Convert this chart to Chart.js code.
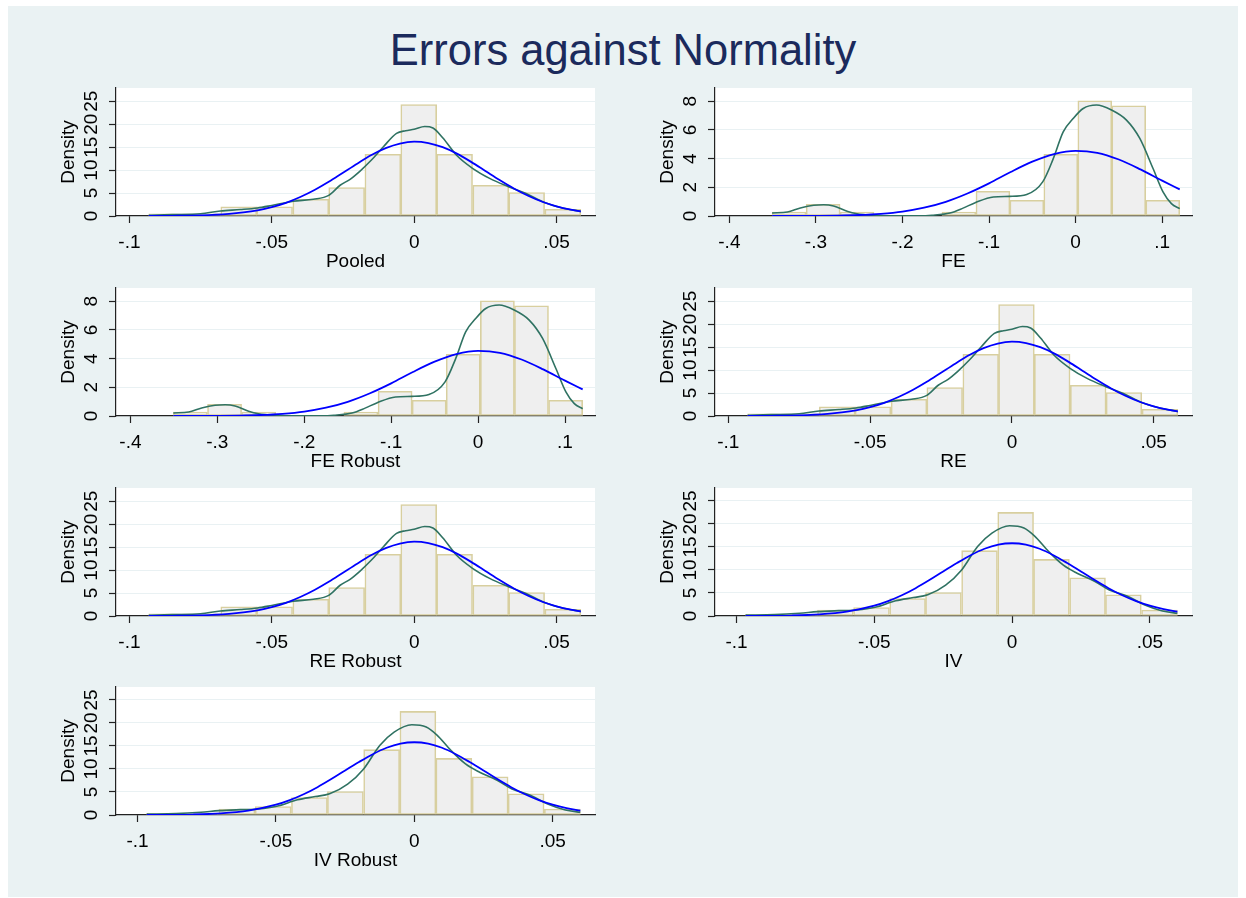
<!DOCTYPE html>
<html>
<head>
<meta charset="utf-8">
<script src="https://cdn.jsdelivr.net/npm/chart.js@4.4.1/dist/chart.umd.min.js"></script>
<style>
  body { margin: 0; background: #fff; width: 1246px; height: 898px; overflow: hidden; }
  #bg { position: absolute; left: 8px; top: 6px; width: 1230px; height: 891px; background: #eaf2f3; }
  #title { position: absolute; left: 0; top: 29px; width: 1246px; text-align: center;
           font: 43.5px/43.5px "Liberation Sans", Arial, sans-serif; color: #1b2a5c; }
  canvas { position: absolute; }
</style>
</head>
<body>
<div id="bg"></div>
<div id="title">Errors against Normality</div>

<script>
// --- data ---
// Pooled / RE / RE Robust residuals
const pooledBins = [-0.0869, -0.0742, -0.0616, -0.0490, -0.0363, -0.0237, -0.0110, 0.0016, 0.0142, 0.0269, 0.0395, 0.0522];
const pooledHist = [0.45, 0.45, 2.0, 2.0, 3.65, 6.2, 13.45, 24.3, 13.45, 6.7, 5.1, 1.46];
const pooledKdeX = [-0.0932, -0.085, -0.075, -0.068, -0.061, -0.055, -0.05, -0.0425, -0.0354, -0.03, -0.026, -0.0225, -0.019, -0.015, -0.0108, -0.0062, -0.003, 0, 0.0037, 0.0066, 0.0101, 0.0148, 0.0205, 0.0265, 0.0331, 0.0393, 0.046, 0.0521, 0.0585];
const pooledKdeY = [0.15, 0.3, 0.5, 1.1, 1.4, 1.75, 2.3, 3.2, 3.65, 4.5, 6.7, 8.0, 9.8, 12.2, 15.1, 18.0, 18.6, 18.9, 19.5, 19.2, 17.0, 13.3, 10.4, 8.2, 6.4, 4.9, 2.9, 1.75, 1.0];
const pooledNormX = [-0.0932, -0.085, -0.075, -0.065, -0.06, -0.055, -0.05, -0.045, -0.04, -0.035, -0.03, -0.025, -0.02, -0.015, -0.01, -0.005, 0, 0.005, 0.01, 0.015, 0.02, 0.025, 0.03, 0.035, 0.04, 0.045, 0.05, 0.055, 0.0585];
const pooledNormY = [0.01, 0.04, 0.14, 0.46, 0.77, 1.24, 1.94, 2.88, 4.14, 5.67, 7.46, 9.43, 11.4, 13.3, 14.8, 15.8, 16.2, 15.9, 15.0, 13.6, 11.8, 9.83, 7.85, 6.01, 4.42, 3.11, 2.11, 1.37, 0.98];

// FE / FE Robust residuals
const feBins = [-0.3310, -0.2917, -0.2525, -0.2133, -0.1740, -0.1348, -0.0955, -0.0563, -0.0171, 0.0222, 0.0614, 0.1007];
const feHist = [0.28, 0.82, 0.28, 0, 0, 0.28, 1.72, 1.1, 4.31, 8.04, 7.69, 1.1];
const feKdeX = [-0.3506, -0.333, -0.318, -0.3026, -0.291, -0.2796, -0.264, -0.2526, -0.2334, -0.21, -0.18, -0.166, -0.145, -0.13, -0.116, -0.095, -0.0758, -0.0565, -0.038, -0.0258, -0.0143, -0.0028, 0.0088, 0.0242, 0.0415, 0.0588, 0.0742, 0.0895, 0.101, 0.1107, 0.1203];
const feKdeY = [0.21, 0.28, 0.56, 0.75, 0.79, 0.70, 0.33, 0.16, 0.05, 0.01, 0.01, 0.05, 0.21, 0.55, 0.93, 1.33, 1.37, 1.5, 2.38, 4.0, 5.87, 6.8, 7.5, 7.74, 7.39, 6.69, 5.41, 3.31, 1.68, 0.86, 0.51];
const feNormX = [-0.3506, -0.325, -0.3, -0.275, -0.25, -0.225, -0.2, -0.175, -0.15, -0.125, -0.1, -0.075, -0.05, -0.025, 0, 0.025, 0.05, 0.075, 0.1, 0.1203];
const feNormY = [0.001, 0.004, 0.012, 0.03, 0.071, 0.155, 0.31, 0.58, 0.99, 1.57, 2.28, 3.07, 3.79, 4.32, 4.55, 4.41, 3.94, 3.25, 2.47, 1.86];

// IV / IV Robust residuals
const ivBins = [-0.0902, -0.0771, -0.0641, -0.0510, -0.0379, -0.0249, -0.0118, 0.0013, 0.0143, 0.0274, 0.0404, 0.0535];
const ivHist = [0.36, 0.36, 1.3, 1.85, 3.8, 5.1, 14.2, 22.5, 12.3, 8.3, 4.6, 1.3];
const ivKdeX = [-0.0967, -0.0861, -0.0771, -0.0706, -0.0629, -0.0564, -0.0497, -0.0422, -0.0358, -0.0306, -0.0241, -0.0183, -0.0125, -0.0073, -0.0009, 0.0043, 0.0081, 0.0133, 0.0185, 0.0236, 0.0301, 0.0353, 0.0417, 0.0482, 0.0546, 0.06];
const ivKdeY = [0.2, 0.3, 0.6, 0.94, 1.16, 1.3, 1.88, 3.3, 4.0, 4.6, 6.7, 10.0, 15.1, 18.0, 19.6, 19.1, 17.4, 14.0, 11.1, 9.3, 7.5, 5.65, 4.35, 2.4, 1.1, 0.58];
const ivNormX = [-0.0967, -0.09, -0.08, -0.07, -0.06, -0.05, -0.045, -0.04, -0.035, -0.03, -0.025, -0.02, -0.015, -0.01, -0.005, 0, 0.005, 0.01, 0.015, 0.02, 0.025, 0.03, 0.035, 0.04, 0.045, 0.05, 0.055, 0.06];
const ivNormY = [0.01, 0.03, 0.1, 0.34, 0.94, 2.23, 3.23, 4.5, 6.04, 7.8, 9.68, 11.5, 13.2, 14.6, 15.5, 15.8, 15.5, 14.6, 13.2, 11.5, 9.68, 7.8, 6.04, 4.5, 3.23, 2.23, 1.48, 0.94];

// tick values and labels
const smallXTicks = [-0.1, -0.05, 0, 0.05];
const smallXLabels = ['-.1', '-.05', '0', '.05'];
const feXTicks = [-0.4, -0.3, -0.2, -0.1, 0, 0.1];
const feXLabels = ['-.4', '-.3', '-.2', '-.1', '0', '.1'];
const densYTicks = [0, 5, 10, 15, 20, 25];
const feYTicks = [0, 2, 4, 6, 8];

const panelTitles = ['Pooled', 'FE', 'FE Robust', 'RE', 'RE Robust', 'IV', 'IV Robust'];

// --- layout ---
const FONT = '"Liberation Sans", Arial, sans-serif';
const FS = 19;
const colAxisX = [116, 715];
const colRight = [595, 1192];
const rowTop = [88, 288, 488, 687];
const PLOT_H = 128, Y_W = 76, X_H = 57, PAD_T = 8, PAD_R = 14;

Chart.defaults.font.family = FONT;
Chart.defaults.font.size = FS;
Chart.defaults.color = '#000';

const sets = {
  pooled: { bins: pooledBins, hist: pooledHist, kx: pooledKdeX, ky: pooledKdeY, nx: pooledNormX, ny: pooledNormY,
            xr: [-0.1047, 0.0635], ymax: 27.9, xt: smallXTicks, xl: smallXLabels, yt: densYTicks },
  fe:     { bins: feBins, hist: feHist, kx: feKdeX, ky: feKdeY, nx: feNormX, ny: feNormY,
            xr: [-0.4166, 0.1345], ymax: 8.93, xt: feXTicks, xl: feXLabels, yt: feYTicks },
  iv:     { bins: ivBins, hist: ivHist, kx: ivKdeX, ky: ivKdeY, nx: ivNormX, ny: ivNormY,
            xr: [-0.1078, 0.0653], ymax: 27.8, xt: smallXTicks, xl: smallXLabels, yt: densYTicks }
};

const panels = [
  { set: 'pooled', col: 0, row: 0 },
  { set: 'fe', col: 1, row: 0 },
  { set: 'fe', col: 0, row: 1 },
  { set: 'pooled', col: 1, row: 1 },
  { set: 'pooled', col: 0, row: 2 },
  { set: 'iv', col: 1, row: 2 },
  { set: 'iv', col: 0, row: 3 }
];

// white plot region
const plotBg = {
  id: 'plotBg',
  beforeDraw(chart) {
    const a = chart.chartArea, c = chart.ctx;
    c.save();
    c.fillStyle = '#ffffff';
    c.fillRect(a.left, a.top, a.right - a.left, a.bottom - a.top);
    c.restore();
  }
};

// vertical y tick labels, Stata style
const yLabels = {
  id: 'yLabels',
  afterDraw(chart) {
    const s = chart.scales.y, c = chart.ctx;
    c.save();
    c.font = FS + 'px ' + FONT;
    c.fillStyle = '#000';
    c.textAlign = 'center';
    c.textBaseline = 'middle';
    s.ticks.forEach(t => {
      c.save();
      c.translate(chart.chartArea.left - 24, s.getPixelForValue(t.value));
      c.rotate(-Math.PI / 2);
      c.fillText(String(t.value), 0, 0);
      c.restore();
    });
    c.restore();
  }
};

panels.forEach((p, i) => {
  const d = sets[p.set];
  const axisX = colAxisX[p.col];
  const plotW = colRight[p.col] - axisX;
  const cv = document.createElement('canvas');
  cv.width = Y_W + plotW + PAD_R;
  cv.height = PAD_T + PLOT_H + X_H;
  cv.style.left = (axisX - Y_W) + 'px';
  cv.style.top = (rowTop[p.row] - PAD_T) + 'px';
  document.body.appendChild(cv);

  new Chart(cv.getContext('2d'), {
    type: 'bar',
    data: {
      datasets: [
        {
          type: 'line',
          data: d.nx.map((x, k) => ({ x: x, y: d.ny[k] })),
          borderColor: '#0000ff', borderWidth: 1.8, pointRadius: 0,
          cubicInterpolationMode: 'monotone', fill: false, order: 1
        },
        {
          type: 'line',
          data: d.kx.map((x, k) => ({ x: x, y: d.ky[k] })),
          borderColor: '#2f7262', borderWidth: 1.6, pointRadius: 0,
          cubicInterpolationMode: 'monotone', fill: false, order: 2
        },
        {
          type: 'bar',
          data: d.bins.map((x, k) => ({ x: x, y: d.hist[k] })),
          backgroundColor: '#efefef', borderColor: '#d8cf9f', borderWidth: 1.6,
          borderSkipped: false, barPercentage: 1, categoryPercentage: 1, order: 3
        }
      ]
    },
    options: {
      responsive: false,
      animation: false,
      devicePixelRatio: 1,
      layout: { padding: { left: 0, top: PAD_T, right: PAD_R, bottom: 0 } },
      plugins: { legend: { display: false }, tooltip: { enabled: false } },
      scales: {
        x: {
          type: 'linear',
          min: d.xr[0], max: d.xr[1],
          offset: false,
          afterBuildTicks: s => { s.ticks = d.xt.map(v => ({ value: v })); },
          afterFit: s => { s.height = X_H; },
          ticks: {
            padding: 8, maxRotation: 0, autoSkip: false,
            callback: (v) => { const k = d.xt.indexOf(v); return k >= 0 ? d.xl[k] : ''; }
          },
          grid: { offset: false, drawOnChartArea: false, drawTicks: true, tickLength: 7, tickColor: '#222', tickWidth: 1.2 },
          border: { display: true, color: '#222', width: 1.2 },
          title: { display: true, text: panelTitles[i], padding: { top: 0, bottom: 0 }, font: { size: FS } }
        },
        y: {
          type: 'linear',
          min: 0, max: d.ymax,
          afterBuildTicks: s => { s.ticks = d.yt.map(v => ({ value: v })); },
          afterFit: s => { s.width = Y_W; },
          ticks: { display: false },
          grid: {
            color: c => (c.tick && c.tick.value === 0) ? 'rgba(0,0,0,0)' : '#e9f1f3',
            lineWidth: 1, drawTicks: true, tickLength: 7, tickColor: '#222', tickWidth: 1.2
          },
          border: { display: true, color: '#222', width: 1.2 },
          title: { display: true, text: 'Density', padding: { top: 17, bottom: 0 }, font: { size: FS } }
        }
      }
    },
    plugins: [plotBg, yLabels]
  });
});
</script>
</body>
</html>
